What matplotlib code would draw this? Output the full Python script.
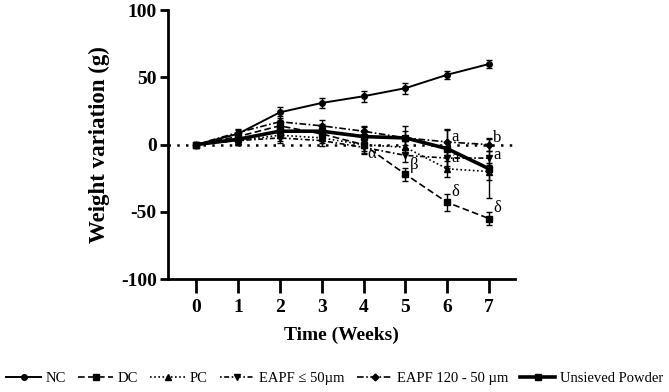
import matplotlib
matplotlib.use("Agg")
import matplotlib.pyplot as plt
from matplotlib.lines import Line2D
import numpy as np

weeks = [0, 1, 2, 3, 4, 5, 6, 7]

nc = [0, 8, 24, 31, 36, 42, 52, 60]
nc_err = [1, 3, 4, 4, 4, 4, 3, 3]

dc = [0, 6, 14, 8, 0, -22, -43, -55]
dc_err = [1, 3, 4, 4, 6, 5, 6, 5]

pc = [0, 3, 7, 5, 0, -2, -18, -20]
pc_err = [1, 3, 4, 4, 5, 5, 6, 6]

eapf50 = [0, 3, 5, 3, -2, -8, -10, -10]
eapf50_err = [1, 3, 4, 4, 5, 5, 6, 5]

eapf120 = [0, 9, 17, 14, 10, 5, 2, 0]
eapf120_err = [1, 3, 4, 4, 4, 5, 10, 5]

unsieved = [0, 4, 10, 10, 6, 5, -3, -18]
unsieved_err = [1, 4, 5, 5, 7, 9, 14, 22]

series = [
    ("NC", nc, nc_err, dict(ls="-", marker="o", lw=1.4, ms=4)),
    ("DC", dc, dc_err, dict(ls=(0, (4, 2)), marker="s", lw=1.2, ms=4)),
    ("PC", pc, pc_err, dict(ls=(0, (1, 1.5)), marker="^", lw=1.2, ms=4)),
    ("EAPF \u2264 50\u00b5m", eapf50, eapf50_err, dict(ls=(0, (1, 1.5, 3, 1.5)), marker="v", lw=1.2, ms=4)),
    ("EAPF 120 - 50 \u00b5m", eapf120, eapf120_err, dict(ls=(0, (4, 1.5, 1, 1.5)), marker="D", lw=1.2, ms=3.5)),
    ("Unsieved Powder", unsieved, unsieved_err, dict(ls="-", marker="s", lw=2.6, ms=5)),
]

plt.rcParams['font.family'] = ['Liberation Serif', 'DejaVu Serif']
plt.rcParams['axes.unicode_minus'] = False

fig = plt.figure(figsize=(6.69, 3.92), dpi=100)
ax = fig.add_axes([0.251, 0.288, 0.519, 0.686])

ax.axhline(0, color="black", ls=(0, (1, 2.5)), lw=1.8, zorder=1)

handles = []
for name, vals, err, st in series:
    ax.errorbar(weeks, vals, yerr=err, color="black", capsize=2.5, elinewidth=1.0,
                capthick=1.0, mfc="black", mec="black", label=name, **st)
    handles.append(Line2D([], [], color="black", mfc="black", mec="black", label=name, **st))

# significance annotations
ann = [(4, -7, "\u03b1"), (5, -15, "\u03b2"), (6, -35, "\u03b4"), (7, -47, "\u03b4"),
       (6, 6, "a"), (6, -10, "a"), (7, 5, "b"), (7, -8, "a")]
for x, y, t in ann:
    ax.text(x + 0.1, y, t, fontsize=12, va="center", ha="left")

ax.set_xlim(-0.67, 7.62)
ax.set_ylim(-100, 100)
ax.set_xticks(weeks)
ax.set_yticks([-100, -50, 0, 50, 100])
for s in ["top", "right"]:
    ax.spines[s].set_visible(False)
ax.spines["left"].set_linewidth(2)
ax.spines["bottom"].set_linewidth(2)
ax.tick_params(axis="y", direction="out", length=6, width=2, labelsize=14, pad=2)
ax.tick_params(axis="x", direction="out", length=10, width=2, labelsize=14, pad=4)
for lab in ax.get_xticklabels() + ax.get_yticklabels():
    lab.set_fontweight("bold")

ax.set_ylabel("Weight variation (g)", fontsize=16.5, fontweight="bold", labelpad=8)
ax.set_xlabel("Time (Weeks)", fontsize=14, fontweight="bold", labelpad=8)

fig.legend(handles=handles, loc="lower center", bbox_to_anchor=(0.5, 0.0), ncol=6,
           frameon=False, fontsize=10.5, handlelength=2.4, columnspacing=0.85,
           handletextpad=0.3, borderaxespad=0.1)

fig.savefig("out.png", dpi=100)
